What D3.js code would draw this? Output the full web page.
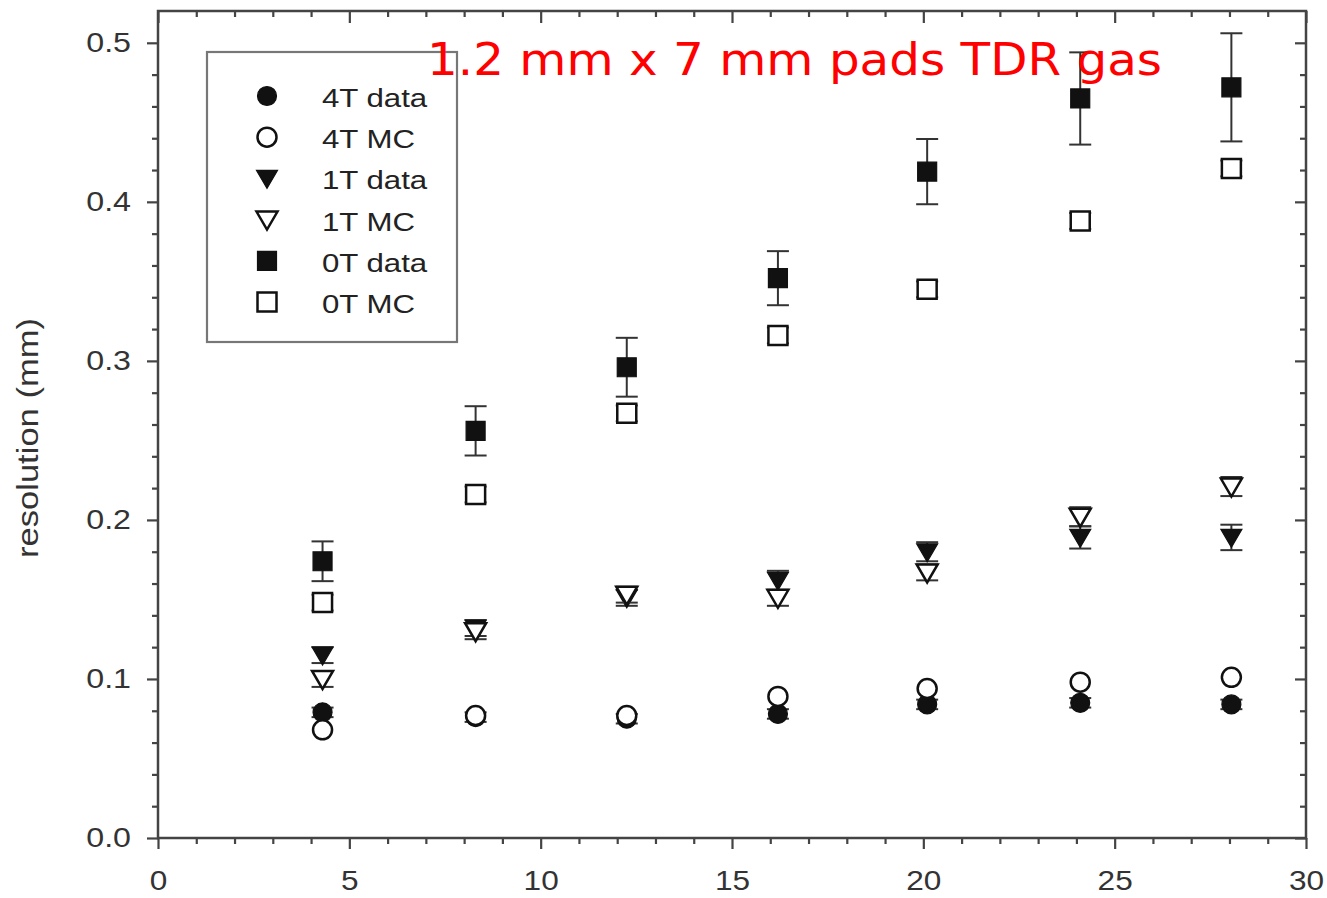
<!DOCTYPE html>
<html>
<head>
<meta charset="utf-8">
<script src="https://cdn.jsdelivr.net/npm/d3@7"></script>
<style>
  body { margin: 0; background: #fff; }
  svg { display: block; }
</style>
</head>
<body>
<div id="chart"></div>
<script>
// drift positions (same for every series)
const xPos = [4.3, 8.3, 12.25, 16.2, 20.1, 24.1, 28.05];

// resolution values (mm)
const t4Data = [0.079, 0.076, 0.075, 0.078, 0.084, 0.085, 0.084];
const t4MC   = [0.068, 0.077, 0.077, 0.089, 0.094, 0.098, 0.101];
const t1Data = [0.115, 0.132, 0.151, 0.162, 0.180, 0.189, 0.189];
const t1MC   = [0.100, 0.130, 0.153, 0.151, 0.167, 0.202, 0.221];
const t0Data = [0.174, 0.256, 0.296, 0.352, 0.419, 0.465, 0.472];
const t0MC   = [0.148, 0.216, 0.267, 0.316, 0.345, 0.388, 0.421];

// errors
const t4DataErr = [0.003, 0.003, 0.003, 0.003, 0.003, 0.003, 0.003];
const t4MCErr   = [0, 0, 0, 0, 0, 0, 0];
const t1DataErr = [0.005, 0.005, 0.005, 0.006, 0.006, 0.007, 0.008];
const t1MCErr   = [0.005, 0.005, 0.005, 0.005, 0.005, 0.006, 0.006];
const t0DataErr = [0.0125, 0.0155, 0.0185, 0.017, 0.0205, 0.029, 0.034];
const t0MCErr   = [0.005, 0.005, 0.005, 0.005, 0.005, 0.005, 0.005];

const seriesNames = ["4T data", "4T MC", "1T data", "1T MC", "0T data", "0T MC"];
const xTicks = [0, 5, 10, 15, 20, 25, 30];
const yTicks = [0, 0.1, 0.2, 0.3, 0.4, 0.5];

const W = 1327, H = 898;
const svg = d3.select("#chart").append("svg")
  .attr("width", W).attr("height", H);

// scales
const x = d3.scaleLinear().domain([0, 30]).range([158, 1306]);
const y = d3.scaleLinear().domain([0, 0.52]).range([838, 11]);

const axisColor = "#444";

// minor ticks
const xMinor = d3.range(0, 31, 1).filter(d => d % 5 !== 0);
const yMinor = d3.range(0, 0.52, 0.02).filter(d => Math.abs(d * 10 - Math.round(d * 10)) > 0.01);

function styleAxis(g) {
  g.selectAll("line").attr("stroke", axisColor).attr("stroke-width", 2.2);
  g.selectAll("path").remove();
}

// bottom
svg.append("g").attr("transform", `translate(0,${y(0)})`)
  .call(d3.axisBottom(x).tickValues(xMinor).tickSize(6).tickFormat(""))
  .call(styleAxis);
svg.append("g").attr("transform", `translate(0,${y(0)})`)
  .call(d3.axisBottom(x).tickValues(xTicks).tickSize(11).tickPadding(22))
  .call(styleAxis)
  .call(g => g.selectAll("text")
    .attr("font-family", "Liberation Sans, Arial, sans-serif")
    .attr("font-size", 27).attr("fill", "#333")
    .attr("transform", "scale(1.17,1)"));

// top (inward)
svg.append("g").attr("transform", `translate(0,${y(0.52)})`)
  .call(d3.axisTop(x).tickValues(xMinor).tickSize(-6).tickFormat(""))
  .call(styleAxis);
svg.append("g").attr("transform", `translate(0,${y(0.52)})`)
  .call(d3.axisTop(x).tickValues(xTicks).tickSize(-12).tickFormat(""))
  .call(styleAxis);

// left
svg.append("g").attr("transform", `translate(${x(0)},0)`)
  .call(d3.axisLeft(y).tickValues(yMinor).tickSize(6).tickFormat(""))
  .call(styleAxis);
svg.append("g").attr("transform", `translate(${x(0)},0)`)
  .call(d3.axisLeft(y).tickValues(yTicks).tickSize(11).tickPadding(12.5).tickFormat(d3.format(".1f")))
  .call(styleAxis)
  .call(g => g.selectAll("text")
    .attr("font-family", "Liberation Sans, Arial, sans-serif")
    .attr("font-size", 28).attr("fill", "#333")
    .attr("transform", "scale(1.15,1)"));

// right (inward)
svg.append("g").attr("transform", `translate(${x(30)},0)`)
  .call(d3.axisRight(y).tickValues(yMinor).tickSize(-6).tickFormat(""))
  .call(styleAxis);
svg.append("g").attr("transform", `translate(${x(30)},0)`)
  .call(d3.axisRight(y).tickValues(yTicks).tickSize(-11).tickFormat(""))
  .call(styleAxis);

// frame
svg.append("rect")
  .attr("x", x(0)).attr("y", y(0.52))
  .attr("width", x(30) - x(0)).attr("height", y(0) - y(0.52))
  .attr("fill", "none").attr("stroke", axisColor).attr("stroke-width", 2.5);

// y label
svg.append("text")
  .attr("transform", "translate(38,438) rotate(-90)")
  .attr("text-anchor", "middle")
  .attr("font-family", "Liberation Sans, Arial, sans-serif")
  .attr("font-size", 29).attr("fill", "#333")
  .attr("textLength", 240).attr("lengthAdjust", "spacingAndGlyphs")
  .text("resolution (mm)");

// marker shapes
const shapes = {
  circle: "M0,-9.5A9.5,9.5 0 1,1 0,9.5A9.5,9.5 0 1,1 0,-9.5Z",
  square: "M-9.5,-9.5H9.5V9.5H-9.5Z",
  triangle: "M-10.5,-8L10.5,-8L0,10Z"
};

// drawing order: data first, MC on top
const series = [
  { name: seriesNames[0], vals: t4Data, err: t4DataErr, shape: "circle",   filled: true },
  { name: seriesNames[2], vals: t1Data, err: t1DataErr, shape: "triangle", filled: true },
  { name: seriesNames[4], vals: t0Data, err: t0DataErr, shape: "square",   filled: true },
  { name: seriesNames[1], vals: t4MC,   err: t4MCErr,   shape: "circle",   filled: false },
  { name: seriesNames[3], vals: t1MC,   err: t1MCErr,   shape: "triangle", filled: false },
  { name: seriesNames[5], vals: t0MC,   err: t0MCErr,   shape: "square",   filled: false }
];

function styleMarker(sel, s) {
  sel.attr("d", shapes[s.shape])
    .attr("fill", s.filled ? "#111" : "#fff")
    .attr("stroke", "#111")
    .attr("stroke-width", s.filled ? 1.2 : 2.5);
}

series.forEach(s => {
  const pts = xPos.map((xv, i) => ({ x: xv, v: s.vals[i], e: s.err[i] }));
  const g = svg.append("g");
  const eb = g.selectAll(".eb").data(pts.filter(d => d.e > 0)).join("g")
    .attr("stroke", "#333").attr("stroke-width", 2);
  eb.append("line")
    .attr("x1", d => x(d.x)).attr("x2", d => x(d.x))
    .attr("y1", d => y(d.v - d.e)).attr("y2", d => y(d.v + d.e));
  eb.append("line")
    .attr("x1", d => x(d.x) - 11).attr("x2", d => x(d.x) + 11)
    .attr("y1", d => y(d.v - d.e)).attr("y2", d => y(d.v - d.e));
  eb.append("line")
    .attr("x1", d => x(d.x) - 11).attr("x2", d => x(d.x) + 11)
    .attr("y1", d => y(d.v + d.e)).attr("y2", d => y(d.v + d.e));
  g.selectAll(".m").data(pts).join("path")
    .attr("transform", d => `translate(${x(d.x)},${y(d.v)})`)
    .call(sel => styleMarker(sel, s));
});

// legend
const legend = svg.append("g");
legend.append("rect")
  .attr("x", 207).attr("y", 52).attr("width", 250).attr("height", 290)
  .attr("fill", "#fff").attr("stroke", "#777").attr("stroke-width", 2.2);
const legendOrder = [0, 3, 1, 4, 2, 5];
legendOrder.forEach((si, i) => {
  const s = series[si];
  const cy = 96 + i * 41.2;
  legend.append("path")
    .attr("transform", `translate(267,${cy})`)
    .call(sel => styleMarker(sel, s));
  legend.append("text")
    .attr("transform", `translate(322,${cy + 11}) scale(1.2,1)`)
    .attr("font-family", "Liberation Sans, Arial, sans-serif")
    .attr("font-size", 26).attr("fill", "#222")
    .text(s.name);
});

// title
svg.append("text")
  .attr("x", 427).attr("y", 75)
  .attr("font-family", "DejaVu Sans, Verdana, sans-serif")
  .attr("font-size", 44).attr("fill", "#ff0000")
  .attr("textLength", 735).attr("lengthAdjust", "spacingAndGlyphs")
  .text("1.2 mm x 7 mm pads TDR gas");
</script>
</body>
</html>
